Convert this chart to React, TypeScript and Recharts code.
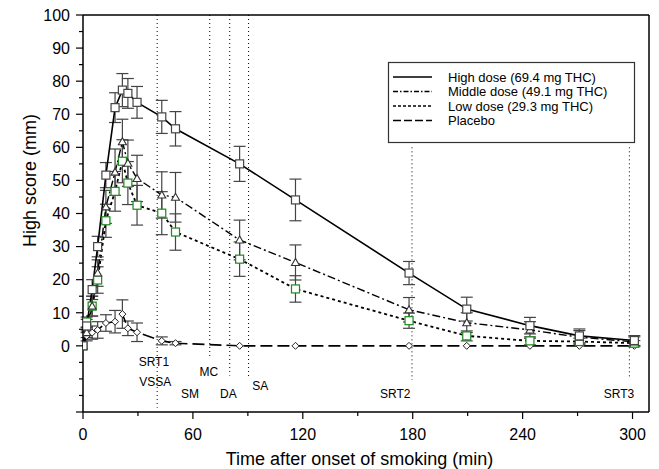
import React from 'react';
import { LineChart, Line, XAxis, YAxis, ErrorBar, ReferenceLine, ReferenceDot } from 'recharts';

// minutes after onset of smoking
const times = [0, 2, 5, 8, 12.5, 17.5, 21.5, 24.5, 29.5, 43, 50.5, 85.5, 116, 178, 209.5, 244, 271, 301];

const highDose = [0, 6, 17, 30, 51.6, 72, 77.3, 76.3, 73.6, 69.2, 65.6, 55, 44.1, 22, 11.1, 6.1, 3.0, 1.6];
const highErr = [0, 2, 3, 3.1, 3.8, 4.5, 5, 4.5, 4.8, 5, 5.2, 5.3, 6.3, 3.5, 3.6, 2.5, 2.1, 1.5];

const middleDose = [0, 4, 12, 22, 42, 52.5, 61.7, 55.2, 50.6, 45.6, 44.9, 32, 25.2, 10.9, 7.0, 4.8, 2.6, 1.2];
const middleErr = [0, 1.5, 3, 4, 5, 7, 6.8, 7, 7, 7, 7.5, 6, 5.3, 3.7, 3, 2.5, 2, 1.5];

const lowDose = [0, 7.2, 12, 19.9, 37.8, 46.7, 55.8, 49.2, 42.5, 40.1, 34.4, 26.2, 17.2, 7.6, 3.0, 1.5, 1.3, 0.8];
const lowErr = [0, 1.5, 3, 4, 5, 6, 6.5, 6.5, 6, 6.5, 5.5, 5.2, 4, 2.3, 1.5, 1.2, 1, 0.8];

const placebo = [0, 3, 4, 4.8, 6.9, 7.3, 9.6, 5.3, 4.1, 1.5, 0.8, 0, 0, 0, 0, 0, 0, 0];
const placeboErr = [0, 1.5, 2, 2.5, 2.5, 3.4, 4.3, 2.2, 2.8, 1.2, 0.5, 0, 0, 0, 0, 0, 0, 0];

const xTicks = [0, 30, 60, 90, 120, 150, 180, 210, 240, 270, 300];
const yTicks = [-20, -15, -10, -5, 0, 5, 10, 15, 20, 25, 30, 35, 40, 45, 50, 55, 60, 65, 70, 75, 80, 85, 90, 95, 100];

// event markers: time, top and bottom of the dotted line
const events = [
  { t: 40.5, top: 100, bottom: -18.7 },
  { t: 69.2, top: 100, bottom: -3.6 },
  { t: 80.1, top: 100, bottom: -9 },
  { t: 90.4, top: 100, bottom: -9.7 },
  { t: 179.6, top: 60, bottom: -10.3 },
  { t: 298.3, top: 60, bottom: -9.7 },
];

const eventLabels = [
  { text: 'SRT1', t: 38.7, v: -4.8 },
  { text: 'VSSA', t: 39.5, v: -10.9 },
  { text: 'SM', t: 58.4, v: -14.5 },
  { text: 'MC', t: 68.7, v: -7.9 },
  { text: 'DA', t: 79.4, v: -14.5 },
  { text: 'SA', t: 96.8, v: -12.1 },
  { text: 'SRT2', t: 170.5, v: -14.5 },
  { text: 'SRT3', t: 292.6, v: -14.5 },
];

const data = times.map((t, i) => ({
  t,
  high: highDose[i],
  highErr: highErr[i],
  mid: middleDose[i],
  midErr: middleErr[i],
  low: lowDose[i],
  lowErr: lowErr[i],
  pla: placebo[i],
  plaErr: placeboErr[i],
}));

const FONT = '"Liberation Sans", Arial, Helvetica, sans-serif';

const squareDot = (stroke: string) => (props: any) => {
  const { cx, cy, index } = props;
  if (cx == null || cy == null) return <g key={index} />;
  return <rect key={index} x={cx - 4} y={cy - 4} width={8} height={8} fill="#fff" stroke={stroke} strokeWidth={1.2} />;
};

const triangleDot = (props: any) => {
  const { cx, cy, index } = props;
  if (cx == null || cy == null) return <g key={index} />;
  return (
    <polygon
      key={index}
      points={`${cx},${cy - 4} ${cx - 4},${cy + 3} ${cx + 4},${cy + 3}`}
      fill="#fff"
      stroke="#333"
      strokeWidth={1.1}
    />
  );
};

const diamondDot = (props: any) => {
  const { cx, cy, index } = props;
  if (cx == null || cy == null) return <g key={index} />;
  return (
    <polygon
      key={index}
      points={`${cx},${cy - 3.5} ${cx + 3.5},${cy} ${cx},${cy + 3.5} ${cx - 3.5},${cy}`}
      fill="#fff"
      stroke="#222"
      strokeWidth={1}
    />
  );
};

const XTick = (props: any) => {
  const { x, y, payload } = props;
  const major = payload.value % 60 === 0;
  return (
    <g>
      <line x1={x} x2={x} y1={y} y2={y + (major ? 7 : 4)} stroke="#000" strokeWidth={1.2} />
      {major && (
        <text x={x} y={y + 28} textAnchor="middle" fontSize={16} fontFamily={FONT} fill="#000">
          {payload.value}
        </text>
      )}
    </g>
  );
};

const YTick = (props: any) => {
  const { x, y, payload } = props;
  const v = payload.value;
  const major = (v >= 0 && v % 10 === 0) || v === -20;
  return (
    <g>
      <line x1={x} x2={x - (major ? 7 : 4)} y1={y} y2={y} stroke="#000" strokeWidth={1.2} />
      {v >= 0 && v % 10 === 0 && (
        <text x={x - 13} y={y + 5.8} textAnchor="end" fontSize={16} fontFamily={FONT} fill="#000">
          {v}
        </text>
      )}
    </g>
  );
};

const legendItems = [
  { name: 'High dose (69.4 mg THC)', dash: undefined, width: 1.5 },
  { name: 'Middle dose (49.1 mg THC)', dash: '5 2 1.5 2', width: 1.3 },
  { name: 'Low dose (29.3 mg THC)', dash: '3 2', width: 1.5 },
  { name: 'Placebo', dash: '8 3', width: 1.6 },
];

export default function App() {
  return (
    <div style={{ position: 'absolute', left: 0, top: 0, width: 659, height: 469, background: '#fff' }}>
      <LineChart
        width={659}
        height={469}
        data={data}
        margin={{ top: 15, right: 10, left: 0, bottom: 0 }}
      >
        <XAxis
          type="number"
          dataKey="t"
          domain={[0, 309]}
          ticks={xTicks}
          interval={0}
          height={57}
          tickSize={0}
          tickMargin={0}
          tick={<XTick />}
          axisLine={{ stroke: '#000', strokeWidth: 1.5 }}
          allowDataOverflow
        />
        <YAxis
          type="number"
          domain={[-20, 100]}
          ticks={yTicks}
          interval={0}
          width={83}
          tickSize={0}
          tickMargin={0}
          tick={<YTick />}
          axisLine={{ stroke: '#000', strokeWidth: 1.5 }}
          allowDataOverflow
        />
        <ReferenceLine y={100} stroke="#000" strokeWidth={1.5} />
        <ReferenceLine x={309} stroke="#000" strokeWidth={1.5} />
        {events.map((e, i) => (
          <ReferenceLine
            key={i}
            segment={[
              { x: e.t, y: e.top },
              { x: e.t, y: e.bottom },
            ]}
            stroke="#000"
            strokeWidth={1}
            strokeDasharray="1 3"
          />
        ))}
        {eventLabels.map((l, i) => (
          <ReferenceDot
            key={'l' + i}
            x={l.t}
            y={l.v}
            r={0}
            fill="none"
            stroke="none"
            label={{ value: l.text, position: 'center', fontSize: 12, fill: '#000', fontFamily: FONT }}
          />
        ))}
        <Line
          dataKey="pla"
          stroke="#000"
          strokeWidth={1.6}
          strokeDasharray="12 5"
          dot={diamondDot}
          isAnimationActive={false}
        >
          <ErrorBar dataKey="plaErr" width={6} stroke="#444" strokeWidth={1.2} direction="y" />
        </Line>
        <Line
          dataKey="low"
          stroke="#000"
          strokeWidth={1.8}
          strokeDasharray="3 3"
          dot={squareDot('#1a8a1a')}
          isAnimationActive={false}
        >
          <ErrorBar dataKey="lowErr" width={6} stroke="#444" strokeWidth={1.2} direction="y" />
        </Line>
        <Line
          dataKey="mid"
          stroke="#000"
          strokeWidth={1.4}
          strokeDasharray="8 3 2 3"
          dot={triangleDot}
          isAnimationActive={false}
        >
          <ErrorBar dataKey="midErr" width={6} stroke="#444" strokeWidth={1.2} direction="y" />
        </Line>
        <Line
          dataKey="high"
          stroke="#000"
          strokeWidth={1.6}
          dot={squareDot('#444')}
          isAnimationActive={false}
        >
          <ErrorBar dataKey="highErr" width={6} stroke="#444" strokeWidth={1.2} direction="y" />
        </Line>
      </LineChart>
      <svg
        width={659}
        height={469}
        style={{ position: 'absolute', left: 0, top: 0, pointerEvents: 'none' }}
        fontFamily={FONT}
      >
        <text x={359.5} y={465} textAnchor="middle" fontSize={18} fill="#000">
          Time after onset of smoking (min)
        </text>
        <text
          x={0}
          y={0}
          transform="translate(36 180.5) rotate(-90)"
          textAnchor="middle"
          fontSize={18}
          fill="#000"
        >
          High score (mm)
        </text>
        <rect x={388.5} y={62.5} width={246} height={80} fill="#fff" stroke="#333" strokeWidth={1.2} />
        {legendItems.map((it, i) => (
          <g key={it.name}>
            <line
              x1={393}
              x2={432}
              y1={77 + i * 14.5}
              y2={77 + i * 14.5}
              stroke="#000"
              strokeWidth={it.width}
              strokeDasharray={it.dash}
            />
            <text x={448} y={77 + i * 14.5 + 4.7} fontSize={13} fill="#000">
              {it.name}
            </text>
          </g>
        ))}
      </svg>
    </div>
  );
}
